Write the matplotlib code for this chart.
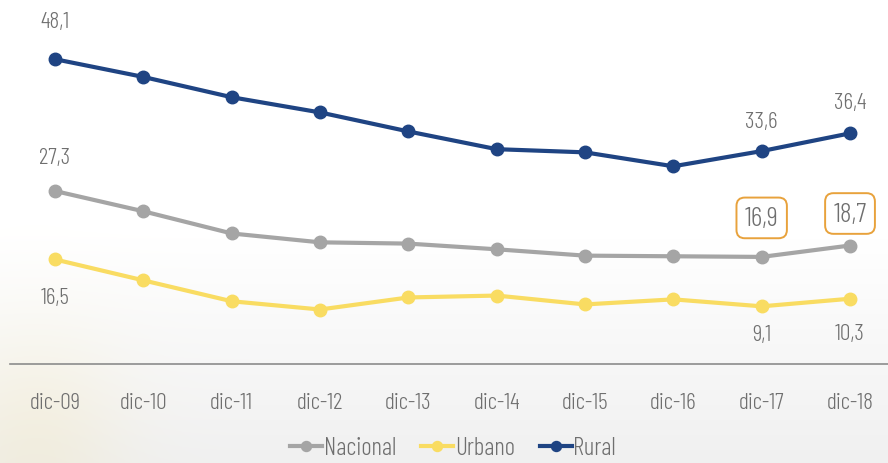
import numpy as np
import matplotlib.pyplot as plt

periodos = ["dic-09", "dic-10", "dic-11", "dic-12", "dic-13",
            "dic-14", "dic-15", "dic-16", "dic-17", "dic-18"]
nacional = [27.3, 24.1, 20.6, 19.2, 19.0, 18.1, 17.1, 17.0, 16.9, 18.7]
urbano = [16.5, 13.2, 9.9, 8.6, 10.5, 10.8, 9.4, 10.2, 9.1, 10.3]
rural = [48.1, 45.3, 42.1, 39.7, 36.7, 33.9, 33.4, 31.2, 33.6, 36.4]

plt.rcParams["font.family"] = ["Barlow Condensed", "DejaVu Sans"]
plt.rcParams["font.weight"] = 300

txt_col = "#6f6f6f"
c_nac, c_urb, c_rur = "#a5a5a5", "#f9dc62", "#1f4483"

fig = plt.figure(figsize=(8.88, 4.64), dpi=100)

# faint background: light grey towards the bottom, warm glow bottom-left
yy, xx = np.mgrid[0:1:464j, 0:1:888j]
glow = np.exp(-((xx - 0.04) ** 2 / 0.01 + (yy - 0.05) ** 2 / 0.06))
shade = np.clip((0.5 - yy) / 0.5, 0, 1) * 0.06
img = np.ones((464, 888, 3))
img -= shade[..., None]
img[..., 2] -= glow * 0.07
img[..., 1] -= glow * 0.015
img = np.round(np.clip(img, 0, 1) * 255).astype(np.uint8)
bg = fig.add_axes([0, 0, 1, 1], zorder=-5)
bg.imshow(img, extent=[0, 1, 0, 1], origin="lower", aspect="auto",
          interpolation="nearest")
bg.axis("off")

ax = fig.add_axes([0, 99 / 464, 1, 365 / 464])
ax.patch.set_alpha(0)
x = np.arange(len(periodos))

ax.plot(x, nacional, color=c_nac, lw=3, marker="o", ms=9, label="Nacional")
ax.plot(x, urbano, color=c_urb, lw=3, marker="o", ms=9, label="Urbano")
ax.plot(x, rural, color=c_rur, lw=3, marker="o", ms=9, label="Rural")

ax.set_xlim(-0.623, 9.43)
ax.set_ylim(0, 57.6)

fs = 17
def lab(i, val, dy, box=False):
    kw = {"fontsize": fs}
    if box:
        kw["fontsize"] = 20
        kw["bbox"] = dict(boxstyle="round,pad=0.3,rounding_size=0.3",
                          fc="white", ec="#e8a23c", lw=1.4)
    ax.annotate(f"{val:.1f}".replace(".", ","), (x[i], val), xytext=(0, dy),
                textcoords="offset pixels", ha="center", va="center",
                color=txt_col, **kw)

lab(0, rural[0], 38)
lab(8, rural[8], 30)
lab(9, rural[9], 31)
lab(0, nacional[0], 34)
lab(8, nacional[8], 39, box=True)
lab(9, nacional[9], 32, box=True)
lab(0, urbano[0], -38)
lab(8, urbano[8], -28)
lab(9, urbano[9], -35)

for s in ["top", "right", "left"]:
    ax.spines[s].set_visible(False)
ax.spines["bottom"].set_color("#8c8c8c")
ax.spines["bottom"].set_linewidth(1.2)
ax.spines["bottom"].set_bounds(-0.51, 9.43)
ax.set_yticks([])
ax.set_xticks(x)
ax.set_xticklabels(periodos, fontsize=fs, color=txt_col)
ax.tick_params(axis="x", length=0, pad=20)

leg = fig.legend(loc="center", bbox_to_anchor=(0.51, 15 / 464),
                 ncol=3, frameon=False, fontsize=18, handlelength=1.3,
                 handletextpad=0.05, columnspacing=1.0, markerscale=0.8)
for t in leg.get_texts():
    t.set_color(txt_col)

fig.savefig("out.png", dpi=100)
